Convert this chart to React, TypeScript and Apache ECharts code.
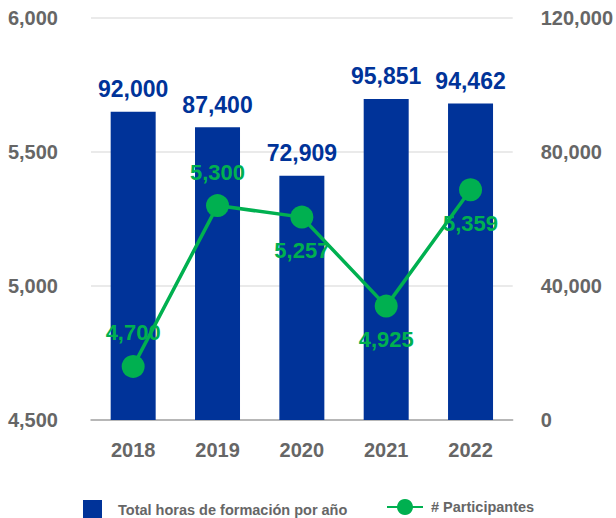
import React, { useEffect, useRef } from "react";
import * as echarts from "echarts";

const years = ["2018", "2019", "2020", "2021", "2022"];
const horas = [92000, 87400, 72909, 95851, 94462];
const participantes = [4700, 5300, 5257, 4925, 5359];
const participantesLabelPos = ["top", "top", "bottom", "bottom", "bottom"];

const BLUE = "#003399";
const GREEN = "#00B050";
const GREY = "#666666";
const FONT = "'Liberation Sans', Arial, sans-serif";

const fmt = (v: number) => Number(v).toLocaleString("en-US");

export default function App() {
  const ref = useRef<HTMLDivElement>(null);
  useEffect(() => {
    if (!ref.current) return;
    const chart = echarts.init(ref.current, undefined, { renderer: "svg" });
    chart.setOption({
      animation: false,
      textStyle: { fontFamily: FONT },
      grid: { left: 91, right: 101, top: 18, bottom: 98 },
      legend: [
        {
          left: 78,
          top: 495,
          itemWidth: 19,
          itemHeight: 19,
          icon: "rect",
          data: ["Total horas de formación por año"],
          textStyle: { color: GREY, fontSize: 14.5, fontWeight: "bold", fontFamily: FONT, padding: [0, 0, 0, 11] },
        },
        {
          left: 381,
          top: 494,
          itemWidth: 36,
          itemHeight: 20,
          data: ["# Participantes"],
          textStyle: { color: GREY, fontSize: 14.5, fontWeight: "bold", fontFamily: FONT, padding: [0, 0, 0, 3] },
        },
      ],
      xAxis: {
        type: "category",
        data: years,
        axisTick: { show: false },
        axisLine: { lineStyle: { color: "#A6A6A6", width: 1.5 } },
        axisLabel: { color: GREY, fontSize: 20, fontWeight: "bold", fontFamily: FONT, margin: 20 },
      },
      yAxis: [
        {
          type: "value",
          min: 4500,
          max: 6000,
          interval: 500,
          position: "left",
          axisLine: { show: false },
          axisTick: { show: false },
          splitLine: { lineStyle: { color: "#E3E3E3", width: 1.5 } },
          axisLabel: { color: GREY, fontSize: 20, fontWeight: "bold", fontFamily: FONT, margin: 33, formatter: fmt },
        },
        {
          type: "value",
          min: 0,
          max: 120000,
          interval: 40000,
          position: "right",
          axisLine: { show: false },
          axisTick: { show: false },
          splitLine: { show: false },
          axisLabel: { color: GREY, fontSize: 20, fontWeight: "bold", fontFamily: FONT, margin: 28, formatter: fmt },
        },
      ],
      series: [
        {
          name: "Total horas de formación por año",
          type: "bar",
          yAxisIndex: 1,
          data: horas,
          barWidth: 45,
          itemStyle: { color: BLUE },
          label: {
            show: true,
            position: "top",
            distance: 11,
            color: BLUE,
            fontSize: 23,
            fontWeight: "bold",
            fontFamily: FONT,
            formatter: (p: any) => fmt(p.value),
          },
        },
        {
          name: "# Participantes",
          type: "line",
          yAxisIndex: 0,
          z: 5,
          symbol: "circle",
          symbolSize: 23,
          lineStyle: { color: GREEN, width: 3.5 },
          itemStyle: { color: GREEN },
          data: participantes.map((v, i) => ({
            value: v,
            label: { position: participantesLabelPos[i] },
          })),
          label: {
            show: true,
            distance: 11,
            color: GREEN,
            fontSize: 22,
            fontWeight: "bold",
            fontFamily: FONT,
            formatter: (p: any) => fmt(p.value),
          },
        },
      ],
    });
    return () => chart.dispose();
  }, []);
  return (
    <div
      ref={ref}
      style={{ position: "fixed", left: 0, top: 0, width: 616, height: 518, background: "#fff" }}
    />
  );
}
